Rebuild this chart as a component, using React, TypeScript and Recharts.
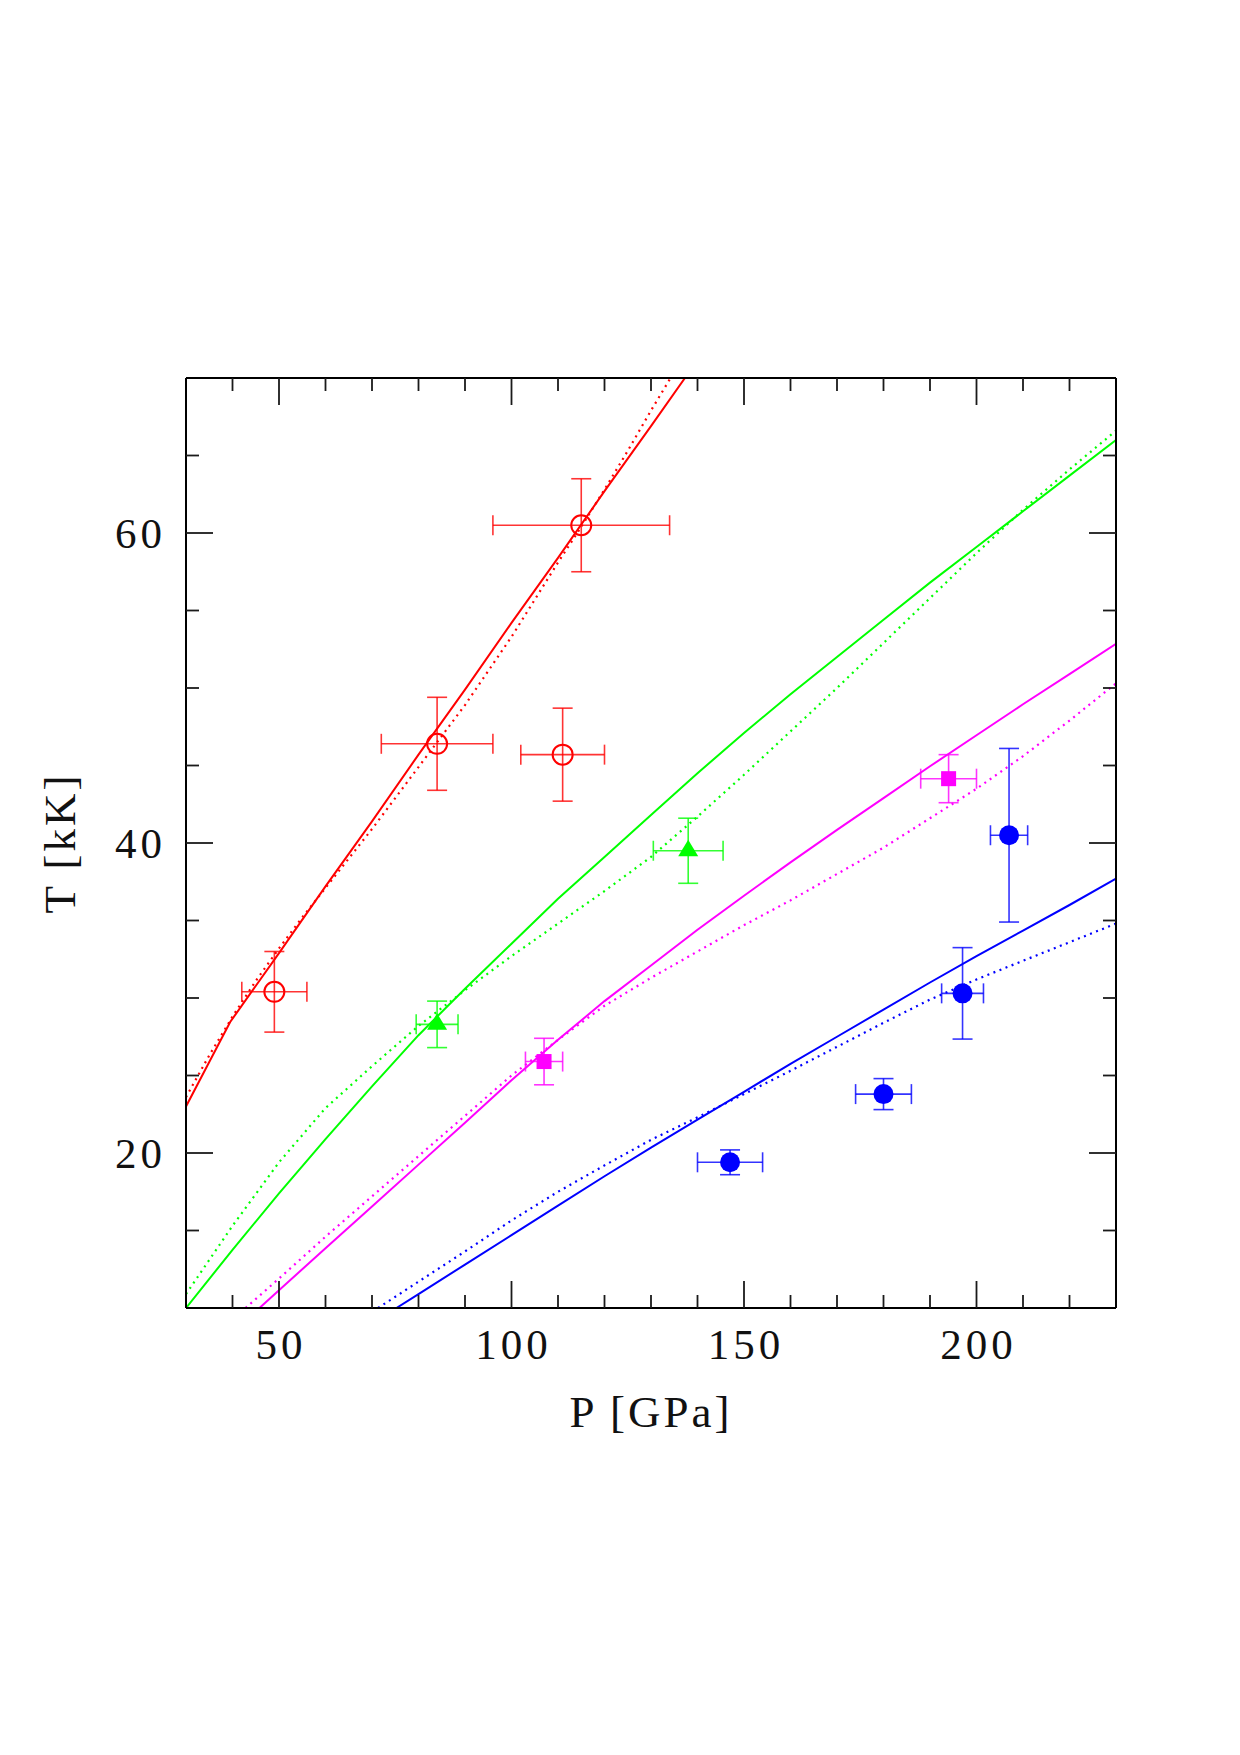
import React from 'react';
import { ComposedChart, Line, Scatter, XAxis, YAxis, ErrorBar, Label } from 'recharts';

// Axis ranges and tick positions
const P_DOMAIN: [number, number] = [30, 230];
const T_DOMAIN: [number, number] = [10, 70];
const P_TICKS = [40, 50, 60, 70, 80, 90, 100, 110, 120, 130, 140, 150, 160, 170, 180, 190, 200, 210, 220];
const T_TICKS = [15, 20, 25, 30, 35, 40, 45, 50, 55, 60, 65];
const P_LABELED = [50, 100, 150, 200];
const T_LABELED = [20, 40, 60];

// Model curves: [P (GPa), T (kK)]
const redSolid = [
  [30, 23.0], [35, 25.87], [39.5, 28.45], [50, 32.9], [60, 37.2], [70, 41.4], [80, 45.7],
  [90, 49.9], [100, 54.2], [110, 58.4], [120, 62.7], [130, 66.9], [137.3, 70.0],
];
const redDotted = [
  [30, 23.6], [35, 26.3], [40, 28.8], [45, 31.1], [50, 33.2], [55, 35.2], [60, 37.1],
  [65, 39.0], [70, 40.9], [75, 42.9], [80, 44.9], [85, 46.9], [90, 48.9], [95, 51.1],
  [100, 53.3], [105, 55.7], [110, 58.1], [115, 60.4], [120, 62.8], [125, 65.3], [130, 67.9], [134.2, 70.0],
];
const greenSolid = [
  [30, 10.0], [40, 13.75], [50, 17.4], [60, 20.9], [70, 24.3], [80, 27.6], [90, 30.6],
  [100, 33.5], [110, 36.4], [120, 39.1], [130, 41.8], [140, 44.5], [150, 47.1], [160, 49.6],
  [170, 52.0], [180, 54.4], [190, 56.8], [200, 59.1], [210, 61.4], [220, 63.7], [230, 66.0],
];
const greenDotted = [
  [30, 10.9], [40, 15.3], [50, 19.4], [60, 22.9], [70, 25.6], [80, 28.2], [90, 30.5],
  [100, 32.7], [110, 34.8], [120, 36.9], [130, 39.1], [140, 41.7], [150, 44.4], [160, 47.2],
  [170, 50.0], [180, 52.9], [190, 55.8], [200, 58.7], [210, 61.5], [220, 64.1], [230, 66.6],
];
const magentaSolid = [
  [45.8, 10.0], [50, 11.15], [60, 13.85], [70, 16.55], [80, 19.25], [90, 21.95], [100, 24.7],
  [110, 27.3], [120, 29.8], [130, 32.1], [140, 34.4], [150, 36.6], [160, 38.75], [170, 40.85],
  [180, 42.9], [190, 44.95], [200, 46.95], [210, 48.95], [220, 50.9], [230, 52.85],
];
const magentaDotted = [
  [42.8, 10.0], [50, 11.9], [60, 14.6], [70, 17.2], [80, 19.8], [90, 22.4], [100, 25.0],
  [110, 27.3], [120, 29.5], [130, 31.3], [140, 33.0], [150, 34.7], [160, 36.3], [170, 38.0],
  [180, 39.7], [190, 41.6], [200, 43.5], [210, 45.6], [220, 47.9], [230, 50.3],
];
const blueSolid = [
  [75.25, 10.0], [80, 10.9], [90, 12.8], [100, 14.7], [110, 16.6], [120, 18.5], [130, 20.35],
  [140, 22.15], [150, 23.95], [160, 25.75], [170, 27.5], [180, 29.25], [190, 31.0], [200, 32.7],
  [210, 34.35], [220, 36.0], [230, 37.7],
];
const blueDotted = [
  [71.3, 10.0], [80, 11.7], [90, 13.65], [100, 15.65], [110, 17.5], [120, 19.2], [130, 20.85],
  [140, 22.3], [150, 23.8], [160, 25.3], [170, 26.85], [180, 28.4], [190, 29.9], [200, 31.2],
  [210, 32.4], [220, 33.6], [230, 34.8],
];

// Measurements: [P, T, P error, T error]
const redPoints = [[49, 30.4, 7, 2.6], [84, 46.4, 12, 3.0], [111, 45.7, 9, 3.0], [115, 60.5, 19, 3.0]];
const greenPoints = [[84, 28.3, 4.5, 1.5], [138, 39.5, 7.5, 2.1]];
const magentaPoints = [[107, 25.9, 4, 1.5], [194, 44.15, 6, 1.55]];
const bluePoints = [[147, 19.4, 7, 0.8], [180, 23.8, 6, 1.0], [197, 30.3, 4.5, 2.95], [207, 40.5, 4, 5.6]];

const RED = '#ff0000';
const GREEN = '#00ff00';
const MAGENTA = '#ff00ff';
const BLUE = '#0000ff';

const FONT = '"Liberation Serif", "Times New Roman", serif';
const MAJOR_LEN = 27;
const MINOR_LEN = 13;
const TICK_COLOR = '#1a1a1a';

const curve = (rows: number[][]) => rows.map(([p, t]) => ({ p, t }));
const points = (rows: number[][]) => rows.map(([p, t, dp, dt]) => ({ p, t, dp, dt }));

function BottomTick(props: any) {
  const { x, y, payload } = props;
  const v = payload.value;
  const major = P_LABELED.includes(v);
  return (
    <g>
      <line x1={x} y1={y} x2={x} y2={y - (major ? MAJOR_LEN : MINOR_LEN)} stroke={TICK_COLOR} strokeWidth={1.8} />
      {major && (
        <text x={x + 2} y={y + 51} textAnchor="middle" fontFamily={FONT} fontSize={43} letterSpacing={4} fill="#111">
          {v}
        </text>
      )}
    </g>
  );
}

function TopTick(props: any) {
  const { x, y, payload } = props;
  const major = P_LABELED.includes(payload.value);
  return <line x1={x} y1={y} x2={x} y2={y + (major ? MAJOR_LEN : MINOR_LEN)} stroke={TICK_COLOR} strokeWidth={1.8} />;
}

function LeftTick(props: any) {
  const { x, y, payload } = props;
  const v = payload.value;
  const major = T_LABELED.includes(v);
  return (
    <g>
      <line x1={x} y1={y} x2={x + (major ? MAJOR_LEN : MINOR_LEN)} y2={y} stroke={TICK_COLOR} strokeWidth={1.8} />
      {major && (
        <text x={x - 20} y={y + 14.5} textAnchor="end" fontFamily={FONT} fontSize={43} letterSpacing={4} fill="#111">
          {v}
        </text>
      )}
    </g>
  );
}

function RightTick(props: any) {
  const { x, y, payload } = props;
  const major = T_LABELED.includes(payload.value);
  return <line x1={x} y1={y} x2={x - (major ? MAJOR_LEN : MINOR_LEN)} y2={y} stroke={TICK_COLOR} strokeWidth={1.8} />;
}

function OpenCircle(props: any) {
  const { cx, cy } = props;
  return <circle cx={cx} cy={cy} r={10} fill="none" stroke={RED} strokeWidth={2} />;
}
function FilledCircle(props: any) {
  const { cx, cy } = props;
  return <circle cx={cx} cy={cy} r={10} fill={BLUE} />;
}
function Triangle(props: any) {
  const { cx, cy } = props;
  return <polygon points={`${cx - 10},${cy + 5.5} ${cx + 10},${cy + 5.5} ${cx},${cy - 11}`} fill={GREEN} />;
}
function Square(props: any) {
  const { cx, cy } = props;
  return <rect x={cx - 7.5} y={cy - 7.5} width={15} height={15} fill={MAGENTA} />;
}

function XTitle(props: any) {
  const vb = props.viewBox;
  return (
    <text x={vb.x + vb.width / 2} y={vb.y + 119} textAnchor="middle" fontFamily={FONT} fontSize={45} letterSpacing={3} fill="#111">
      P [GPa]
    </text>
  );
}

function YTitle(props: any) {
  const vb = props.viewBox;
  const cx = vb.x - 110;
  const cy = vb.y + vb.height / 2;
  return (
    <text x={cx} y={cy} transform={`rotate(-90 ${cx} ${cy})`} textAnchor="middle" fontFamily={FONT} fontSize={45} letterSpacing={3} fill="#111">
      T [kK]
    </text>
  );
}

const solidLine = (key: string, rows: number[][], color: string) => (
  <Line
    key={key}
    data={curve(rows)}
    dataKey="t"
    type="linear"
    stroke={color}
    strokeWidth={2}
    dot={false}
    activeDot={false}
    isAnimationActive={false}
  />
);
const dottedLine = (key: string, rows: number[][], color: string) => (
  <Line
    key={key}
    data={curve(rows)}
    dataKey="t"
    type="linear"
    stroke={color}
    strokeWidth={2.2}
    strokeDasharray="2 4.5"
    dot={false}
    activeDot={false}
    isAnimationActive={false}
  />
);

const errorBars = (color: string) => [
  <ErrorBar key="ex" dataKey="dp" direction="x" width={10} stroke={color} strokeWidth={1.6} strokeOpacity={0.8} />,
  <ErrorBar key="ey" dataKey="dt" direction="y" width={10} stroke={color} strokeWidth={1.6} strokeOpacity={0.8} />,
];

export default function App() {
  return (
    <div style={{ width: 1224, height: 1500, background: '#fff' }}>
      <ComposedChart width={1224} height={1500} margin={{ top: 369, right: 115, bottom: 199, left: 177 }}>
        <XAxis
          xAxisId={0}
          type="number"
          dataKey="p"
          domain={P_DOMAIN}
          allowDataOverflow
          ticks={P_TICKS}
          interval={0}
          height={1}
          tickSize={0}
          tickMargin={0}
          tickLine={false}
          tick={<BottomTick />}
          axisLine={{ stroke: '#000', strokeWidth: 2 }}
        >
          <Label content={<XTitle />} />
        </XAxis>
        <XAxis
          xAxisId="top"
          orientation="top"
          type="number"
          dataKey="p"
          domain={P_DOMAIN}
          allowDataOverflow
          ticks={P_TICKS}
          interval={0}
          height={1}
          tickSize={0}
          tickMargin={0}
          tickLine={false}
          tick={<TopTick />}
          axisLine={{ stroke: '#000', strokeWidth: 2 }}
        />
        <YAxis
          yAxisId={0}
          type="number"
          domain={T_DOMAIN}
          allowDataOverflow
          ticks={T_TICKS}
          interval={0}
          width={1}
          tickSize={0}
          tickMargin={0}
          tickLine={false}
          tick={<LeftTick />}
          axisLine={{ stroke: '#000', strokeWidth: 2 }}
        >
          <Label content={<YTitle />} />
        </YAxis>
        <YAxis
          yAxisId="right"
          orientation="right"
          type="number"
          domain={T_DOMAIN}
          allowDataOverflow
          ticks={T_TICKS}
          interval={0}
          width={1}
          tickSize={0}
          tickMargin={0}
          tickLine={false}
          tick={<RightTick />}
          axisLine={{ stroke: '#000', strokeWidth: 2 }}
        />

        {solidLine('rs', redSolid, RED)}
        {dottedLine('rd', redDotted, RED)}
        {solidLine('gs', greenSolid, GREEN)}
        {dottedLine('gd', greenDotted, GREEN)}
        {solidLine('ms', magentaSolid, MAGENTA)}
        {dottedLine('md', magentaDotted, MAGENTA)}
        {solidLine('bs', blueSolid, BLUE)}
        {dottedLine('bd', blueDotted, BLUE)}

        <Scatter data={points(redPoints)} dataKey="t" shape={<OpenCircle />} isAnimationActive={false}>
          {errorBars(RED)}
        </Scatter>
        <Scatter data={points(greenPoints)} dataKey="t" shape={<Triangle />} isAnimationActive={false}>
          {errorBars(GREEN)}
        </Scatter>
        <Scatter data={points(magentaPoints)} dataKey="t" shape={<Square />} isAnimationActive={false}>
          {errorBars(MAGENTA)}
        </Scatter>
        <Scatter data={points(bluePoints)} dataKey="t" shape={<FilledCircle />} isAnimationActive={false}>
          {errorBars(BLUE)}
        </Scatter>
      </ComposedChart>
    </div>
  );
}
